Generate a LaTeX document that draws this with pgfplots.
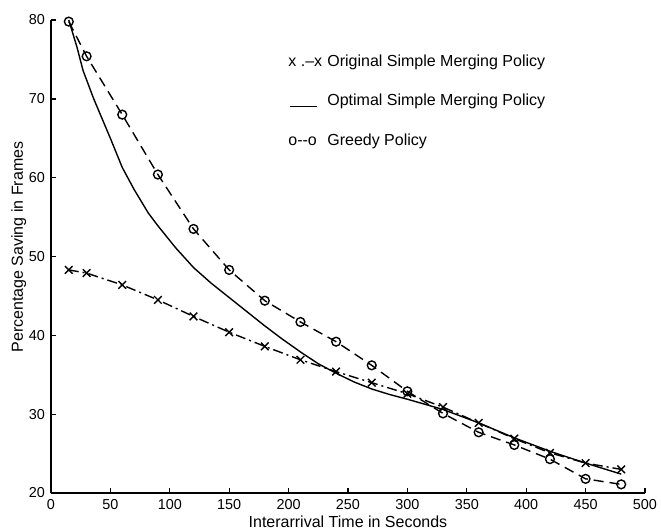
\documentclass[border=0pt]{standalone}
\usepackage{fontspec}
\setmainfont{Liberation Sans}
\usepackage{pgfplots}
\pgfplotsset{compat=1.18}
\begin{document}
\begin{tikzpicture}[font=\fontsize{8}{9.6}\selectfont]
\begin{axis}[
  scale only axis, width=297pt, height=236.5pt,
  xmin=0, xmax=500, ymin=20, ymax=80,
  axis x line*=bottom, axis y line*=left,
  axis line style={line width=0.75pt, -},
  xtick={0,50,...,500}, ytick={20,30,...,80},
  tick align=inside, major tick length=2.5pt,
  tick style={line width=0.65pt, black},
  /pgf/number format/assume math mode=true,
  tick label style={font=\fontsize{7.2}{8}\selectfont},
  xticklabel style={yshift=0.5pt},
  yticklabel style={xshift=0.5pt},
  xlabel={Interarrival Time in Seconds},
  ylabel={Percentage Saving in Frames},
  label style={font=\fontsize{8}{9.6}\selectfont},
  xlabel style={at={(axis description cs:0.5,0)}, anchor=base, yshift=-17pt},
  ylabel style={at={(axis description cs:0,0.52)}, anchor=base, yshift=14pt},
  clip=false,
]
% Original Simple Merging Policy
\addplot[black, line width=0.7pt, dash pattern=on 5pt off 2pt on 1pt off 2pt, mark=x, mark size=2.7pt, mark options={solid, line width=0.7pt}] coordinates {
(15,48.3) (30,47.9) (60,46.4) (90,44.5) (120,42.4) (150,40.4) (180,38.6) (210,36.9)
(240,35.4) (270,34.0) (300,32.6) (330,30.9) (360,28.9) (390,26.9) (420,25.1) (450,23.8) (480,23.0)
};
% Optimal Simple Merging Policy
\addplot[black, line width=0.7pt] coordinates {
(15,80.0) (22,76.5) (27,73.6) (36,70.0) (50,65.0) (60,61.3) (70,58.5) (82,55.5) (90,53.9)
(105,51.1) (120,48.6) (135,46.6) (150,44.8) (165,43.0) (180,41.2) (195,39.5) (210,37.9)
(225,36.4) (240,35.2) (255,34.1) (270,33.2) (285,32.5) (300,31.9) (330,30.6) (360,28.9)
(390,27.0) (420,25.3) (450,23.8) (480,22.4)
};
% Greedy Policy
\addplot[black, line width=0.7pt, dash pattern=on 5pt off 3pt, mark=o, mark size=2.2pt, mark options={solid, line width=0.7pt}] coordinates {
(15,79.8) (30,75.4) (60,68.0) (90,60.4) (120,53.5) (150,48.3) (180,44.4) (210,41.7)
(240,39.2) (270,36.2) (300,32.9) (330,30.1) (360,27.7) (390,26.1) (420,24.3) (450,21.8) (480,21.1)
};
\node[anchor=base west, inner sep=0pt] at (axis cs:199.5,74.16) {x .--x};
\node[anchor=base west, inner sep=0pt] at (axis cs:232.3,74.16) {Original Simple Merging Policy};
\node[anchor=base west, inner sep=0pt] at (axis cs:201,69.0) {\rule{13.5pt}{0.5pt}};
\node[anchor=base west, inner sep=0pt] at (axis cs:232.3,69.21) {Optimal Simple Merging Policy};
\node[anchor=base west, inner sep=0pt] at (axis cs:199.5,64.14) {o-{}-o};
\node[anchor=base west, inner sep=0pt] at (axis cs:232.3,64.14) {Greedy Policy};
\coordinate (bbl) at (axis cs:-42.9,15.3);
\coordinate (btr) at (axis cs:513.5,82.54);
\end{axis}
\pgfresetboundingbox
\path[use as bounding box] (bbl) rectangle (btr);
\end{tikzpicture}
\end{document}
